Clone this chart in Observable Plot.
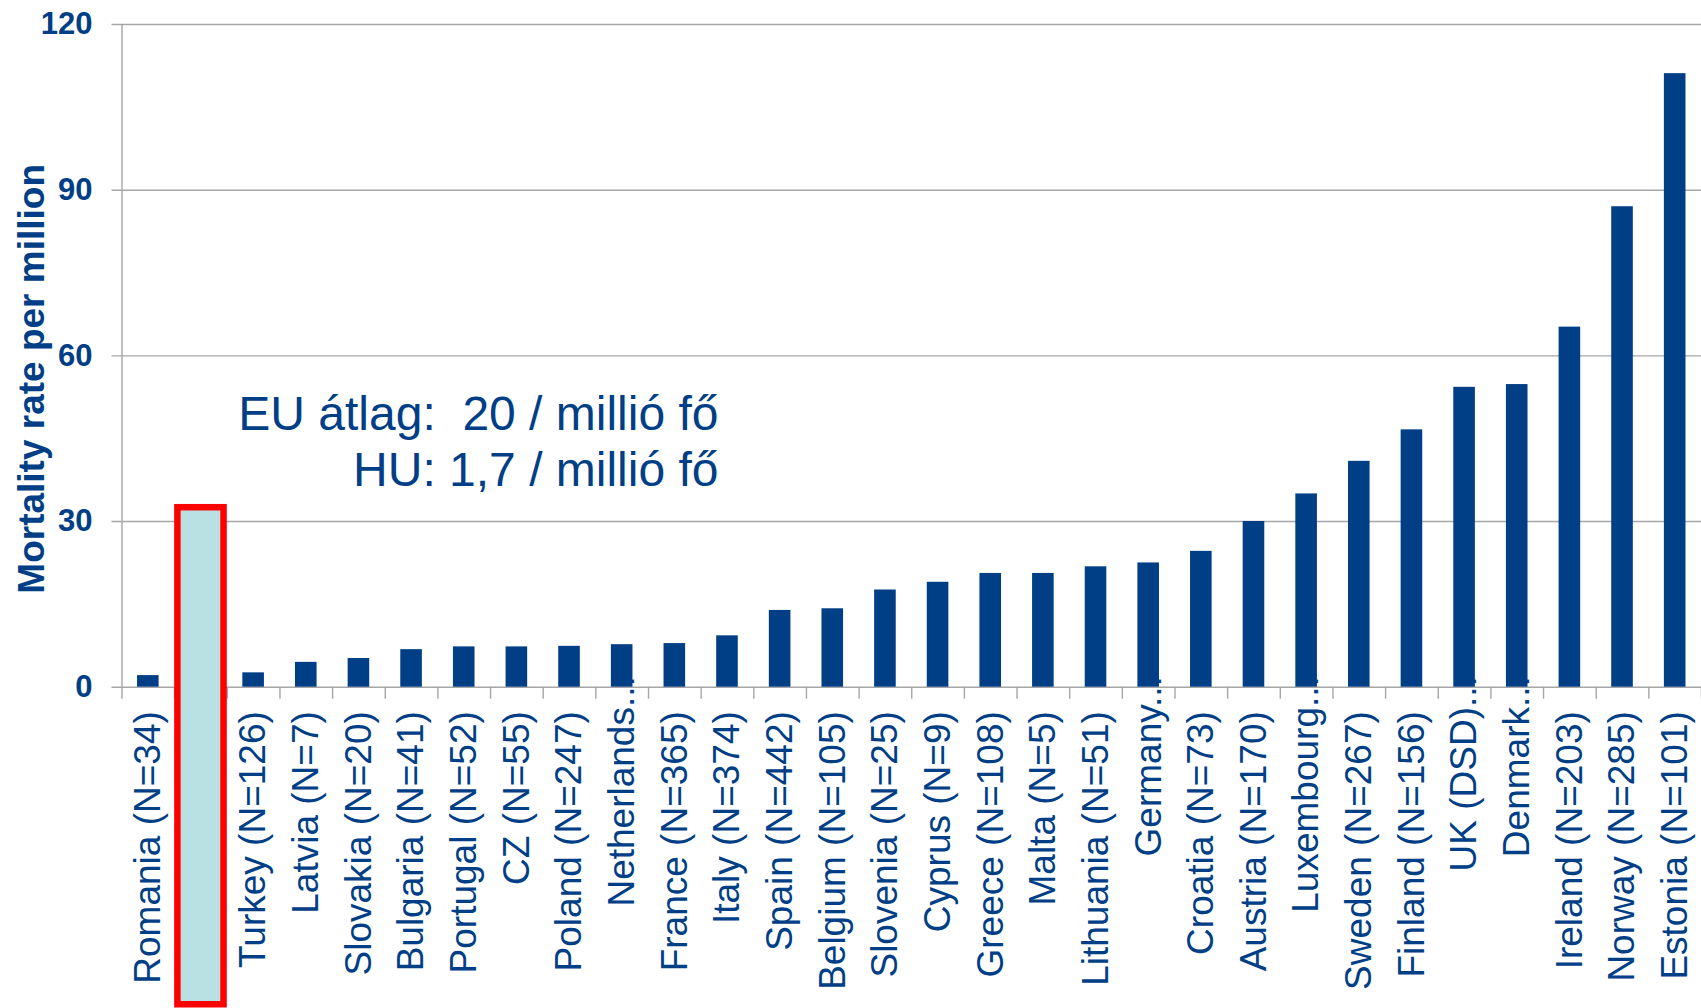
<!DOCTYPE html>
<html>
<head>
<meta charset="utf-8">
<script src="https://cdn.jsdelivr.net/npm/d3@7"></script>
<script src="https://cdn.jsdelivr.net/npm/@observablehq/plot@0.6"></script>
<style>
  html, body { margin: 0; padding: 0; background: #fff; overflow: hidden; }
</style>
</head>
<body>
<div id="chart"></div>
<script>
// Categories in drawing order; "HU" is the highlighted slot.
const countries = [
  "Romania", "HU", "Turkey", "Latvia", "Slovakia", "Bulgaria", "Portugal", "CZ",
  "Poland", "Netherlands", "France", "Italy", "Spain", "Belgium", "Slovenia",
  "Cyprus", "Greece", "Malta", "Lithuania", "Germany", "Croatia", "Austria",
  "Luxembourg", "Sweden", "Finland", "UK (DSD)", "Denmark", "Ireland", "Norway", "Estonia"
];

// Axis labels under each category ("" = no label for the highlighted slot).
const tickLabels = [
  "Romania (N=34)", "", "Turkey (N=126)", "Latvia (N=7)", "Slovakia (N=20)",
  "Bulgaria (N=41)", "Portugal (N=52)", "CZ (N=55)", "Poland (N=247)", "Netherlands...",
  "France (N=365)", "Italy (N=374)", "Spain (N=442)", "Belgium (N=105)", "Slovenia (N=25)",
  "Cyprus (N=9)", "Greece (N=108)", "Malta (N=5)", "Lithuania (N=51)", "Germany...",
  "Croatia (N=73)", "Austria (N=170)", "Luxembourg...", "Sweden (N=267)", "Finland (N=156)",
  "UK (DSD)...", "Denmark...", "Ireland (N=203)", "Norway (N=285)", "Estonia (N=101)"
];

// Mortality rate per million.
const rates = [
  2.1, 1.7, 2.6, 4.5, 5.2, 6.8, 7.3, 7.3, 7.4, 7.7,
  7.9, 9.3, 13.9, 14.2, 17.6, 19.0, 20.6, 20.6, 21.8, 22.5,
  24.6, 30.0, 35.0, 40.9, 46.6, 54.3, 54.8, 65.2, 87.0, 111.1
];

const yTicks = [0, 30, 60, 90, 120];
const yTitle = "Mortality rate per million";
const noteLines = ["EU átlag:\u00a0 20 / millió fő", "HU: 1,7 / millió fő"];

// Highlight box over the HU slot (extends below the axis into the label area).
const highlight = { country: "HU", top: 32.5, bottom: -57.5 };

const table = countries.map((country, i) => ({ country, rate: rates[i], label: tickLabels[i] }));

const width = 1701, height = 1008;
const marginLeft = 121.5, marginRight = 0, marginTop = 24, marginBottom = 321.3;
const paddingInner = 0.59;
const step = (width - marginLeft - marginRight) / countries.length;
const bandwidth = step * (1 - paddingInner);

const blue = "#003e86";
const gridGray = "#a6a6a6";
const boxStroke = 6.5;
const boxInset = boxStroke / 2 - (step - bandwidth) / 2;

const font = "'Liberation Sans', Arial, Helvetica, sans-serif";

const chart = Plot.plot({
  width, height, marginLeft, marginRight, marginTop, marginBottom,
  style: { fontFamily: font, background: "#fff", overflow: "hidden" },
  x: { type: "band", domain: countries, paddingInner, paddingOuter: paddingInner / 2, round: false, axis: null },
  y: { domain: [0, 120], axis: null },
  marks: [
    // horizontal gridlines, with a short tick left of the axis
    Plot.ruleY(yTicks, { y: d => d, stroke: gridGray, strokeWidth: 1.4, insetLeft: -10 }),
    // vertical axis line continuing into the first category tick
    Plot.ruleX([countries[0]], { x: d => d, dx: -step / 2, y1: 120, y2: 0, insetBottom: -12, stroke: gridGray, strokeWidth: 1.4 }),
    // category boundary ticks below the baseline
    Plot.ruleX(countries, { x: d => d, dx: step / 2, y1: 0, y2: 0, insetBottom: -12, stroke: gridGray, strokeWidth: 1.4 }),
    // bars
    Plot.barY(table, { x: "country", y: "rate", fill: blue }),
    // highlighted HU slot
    Plot.barY([highlight], {
      x: "country", y1: "bottom", y2: "top",
      fill: "#b9e0e3", stroke: "#ff0000", strokeWidth: boxStroke,
      insetLeft: boxInset, insetRight: boxInset
    }),
    // category labels
    Plot.text(table.filter(d => d.label && !d.label.endsWith("...")), {
      x: "country", text: "label", frameAnchor: "bottom", rotate: -90,
      textAnchor: "end", lineAnchor: "middle", dy: 24,
      fontSize: 37, fill: blue
    }),
    // shortened category labels sit a little higher
    Plot.text(table.filter(d => d.label.endsWith("...")), {
      x: "country", text: "label", frameAnchor: "bottom", rotate: -90,
      textAnchor: "end", lineAnchor: "middle", dy: -11,
      fontSize: 37, fill: blue
    }),
    // y tick labels
    Plot.text(yTicks, {
      y: d => d, text: d => String(d), frameAnchor: "left", dx: -29.5,
      textAnchor: "end", fontSize: 31, fontWeight: "bold", fill: blue
    }),
    // y axis title
    Plot.text([yTitle], {
      frameAnchor: "left", rotate: -90, dx: -90, dy: 23,
      textAnchor: "middle", lineAnchor: "middle",
      fontSize: 37, fontWeight: "bold", fill: blue
    }),
    // annotation
    Plot.text([noteLines.join("\n")], {
      frameAnchor: "top-left", dx: 596.5, dy: 365,
      textAnchor: "end", lineAnchor: "top", lineHeight: 1.18,
      fontSize: 48, fill: blue
    })
  ]
});

document.getElementById("chart").appendChild(chart);
</script>
</body>
</html>
